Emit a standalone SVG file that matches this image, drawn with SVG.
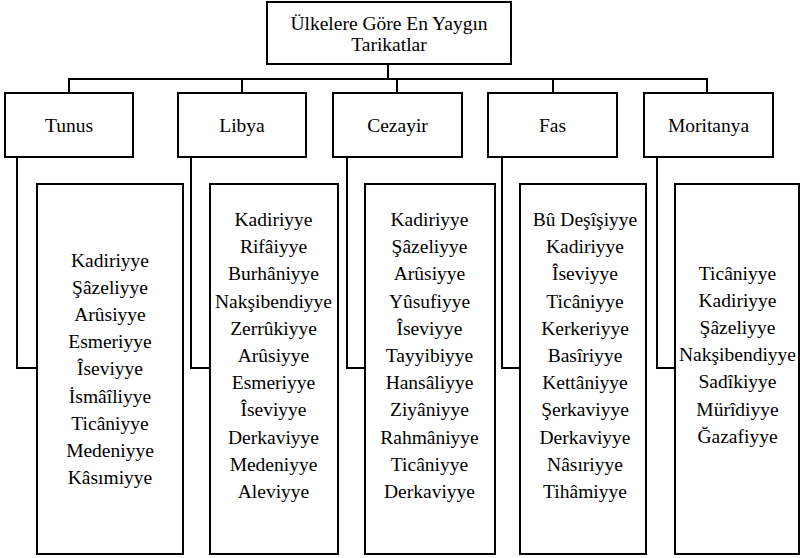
<svg xmlns="http://www.w3.org/2000/svg" width="800" height="558" viewBox="0 0 800 558">
<style>
.box{fill:#fff;stroke:#000;stroke-width:2}
.ln{fill:none;stroke:#000;stroke-width:2}
text{font-family:'Liberation Serif','Tinos','DejaVu Serif',serif;font-size:19.5px;fill:#000;text-anchor:middle}
</style>
<rect width="800" height="558" fill="#fff"/>
<g id="connectors">
<path class="ln" d="M388,64V79M68,79H708M69,79V93M242,79V93M397,79V93M553,79V93M707,79V93"/>
<path class="ln" d="M17,157V368H37M191,157V368H210M347,157V368H365M502,157V368H520M657,157V368H675"/>
</g>
<g font-family="Liberation Serif, DejaVu Serif, serif">
<g id="title">
<rect class="box" x="267" y="2" width="244" height="62"/>
<text x="389" y="30">Ülkelere Göre En Yaygın</text>
<text x="389" y="51">Tarikatlar</text>
</g>
<g id="tunus"><rect class="box" x="5" y="93" width="128" height="64"/><text x="69" y="131.5">Tunus</text></g>
<g id="libya"><rect class="box" x="178" y="93" width="128" height="64"/><text x="242" y="131.5">Libya</text></g>
<g id="cezayir"><rect class="box" x="333" y="93" width="129" height="64"/><text x="397.5" y="131.5">Cezayir</text></g>
<g id="fas"><rect class="box" x="488" y="93" width="129" height="64"/><text x="552.5" y="131.5">Fas</text></g>
<g id="moritanya"><rect class="box" x="644" y="93" width="129" height="64"/><text x="708.5" y="131.5">Moritanya</text></g>
<g id="tunus-list">
<rect class="box" x="37" y="184" width="146" height="370"/>
<text x="110" y="266.5">Kadiriyye</text>
<text x="110" y="293.7">Şâzeliyye</text>
<text x="110" y="320.9">Arûsiyye</text>
<text x="110" y="348.1">Esmeriyye</text>
<text x="110" y="375.3">Îseviyye</text>
<text x="110" y="402.5">İsmâîliyye</text>
<text x="110" y="429.7">Ticâniyye</text>
<text x="110" y="456.9">Medeniyye</text>
<text x="110" y="484.1">Kâsımiyye</text>
</g>
<g id="libya-list">
<rect class="box" x="210" y="184" width="128" height="370"/>
<text x="273.5" y="226">Kadiriyye</text>
<text x="273.5" y="253.2">Rifâiyye</text>
<text x="273.5" y="280.4">Burhâniyye</text>
<text x="273.5" y="307.6">Nakşibendiyye</text>
<text x="273.5" y="334.8">Zerrûkiyye</text>
<text x="273.5" y="362">Arûsiyye</text>
<text x="273.5" y="389.2">Esmeriyye</text>
<text x="273.5" y="416.4">Îseviyye</text>
<text x="273.5" y="443.6">Derkaviyye</text>
<text x="273.5" y="470.8">Medeniyye</text>
<text x="273.5" y="498">Aleviyye</text>
</g>
<g id="cezayir-list">
<rect class="box" x="365" y="184" width="130" height="370"/>
<text x="429.5" y="226">Kadiriyye</text>
<text x="429.5" y="253.2">Şâzeliyye</text>
<text x="429.5" y="280.4">Arûsiyye</text>
<text x="429.5" y="307.6">Yûsufiyye</text>
<text x="429.5" y="334.8">Îseviyye</text>
<text x="429.5" y="362">Tayyibiyye</text>
<text x="429.5" y="389.2">Hansâliyye</text>
<text x="429.5" y="416.4">Ziyâniyye</text>
<text x="429.5" y="443.6">Rahmâniyye</text>
<text x="429.5" y="470.8">Ticâniyye</text>
<text x="429.5" y="498">Derkaviyye</text>
</g>
<g id="fas-list">
<rect class="box" x="520" y="184" width="126" height="370"/>
<text x="585" y="226">Bû Deşîşiyye</text>
<text x="585" y="253.2">Kadiriyye</text>
<text x="585" y="280.4">Îseviyye</text>
<text x="585" y="307.6">Ticâniyye</text>
<text x="585" y="334.8">Kerkeriyye</text>
<text x="585" y="362">Basîriyye</text>
<text x="585" y="389.2">Kettâniyye</text>
<text x="585" y="416.4">Şerkaviyye</text>
<text x="585" y="443.6">Derkaviyye</text>
<text x="585" y="470.8">Nâsıriyye</text>
<text x="585" y="498">Tihâmiyye</text>
</g>
<g id="moritanya-list">
<rect class="box" x="675" y="184" width="124" height="370"/>
<text x="737.5" y="279.5">Ticâniyye</text>
<text x="737.5" y="306.7">Kadiriyye</text>
<text x="737.5" y="333.9">Şâzeliyye</text>
<text x="737.5" y="361.1">Nakşibendiyye</text>
<text x="737.5" y="388.3">Sadîkiyye</text>
<text x="737.5" y="415.5">Mürîdiyye</text>
<text x="737.5" y="442.7">Ğazafiyye</text>
</g>
</g>
</svg>
